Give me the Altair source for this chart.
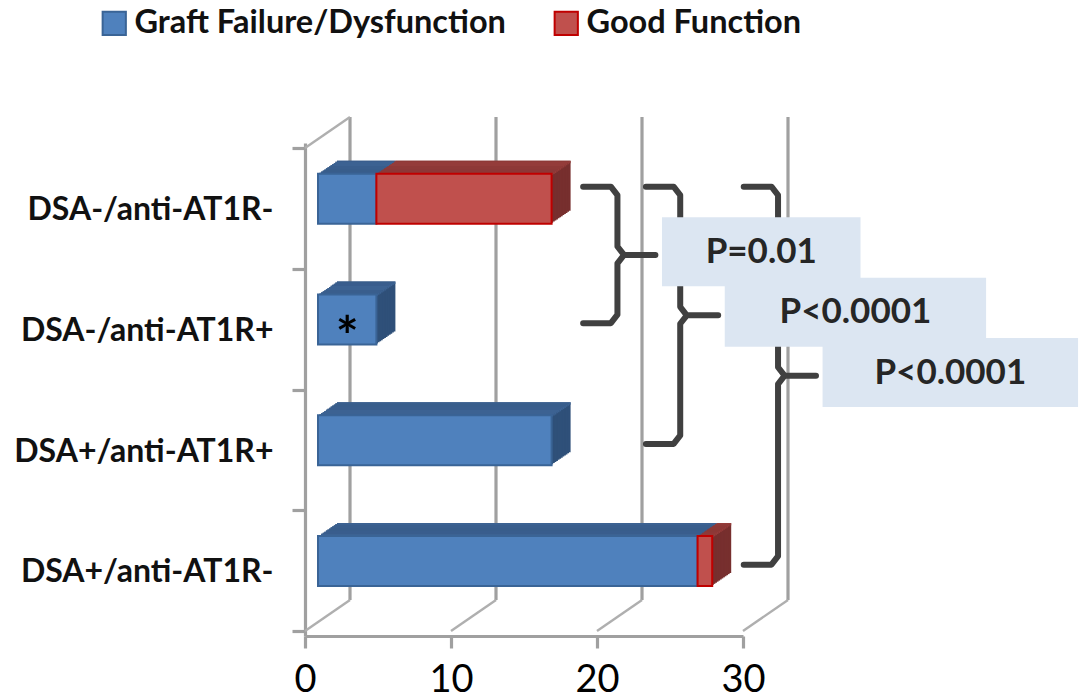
import altair as alt
import pandas as pd

# ---------------- data ----------------
categories = ["DSA-/anti-AT1R-", "DSA-/anti-AT1R+", "DSA+/anti-AT1R+", "DSA+/anti-AT1R-"]
series_names = ["Graft Failure/Dysfunction", "Good Function"]
failure = [4, 4, 16, 26]
good = [12, 0, 0, 1]
markers = ["", "*", "", ""]
x_ticks = [0, 10, 20, 30]

p_labels = ["P=0.01", "P<0.0001", "P<0.0001"]
p_from = [0, 0, 0]   # first category index of the bracket
p_to = [1, 2, 3]     # last category index of the bracket

# ------------- layout / style -------------
W, H = 438, 493
FONT = "Lato"
BLUE, BLUE_TOP, BLUE_SIDE, BLUE_EDGE = "#4F81BD", "#3C6292", "#2F5079", "#3A6496"
RED, RED_TOP, RED_SIDE, RED_EDGE = "#C0504D", "#943C3A", "#772F2E", "#C00000"
WALL = "#A0A0A0"
BRACE = "#404040"
BOX = "#DCE6F2"

BAR_SIZE = 50
FRONT_DX, FRONT_DY = 13, -9.6
DEPTH_DX, DEPTH_DY = 19, -13
WALL_DX, WALL_DY = 45, -31
N_STEPS = 12

brace_x = [21.4, 25.7, 32.4]   # spine of each brace (x units)
box_w = [13.6, 17.9, 17.5]     # label box widths (x units)

# ------------- tables -------------
rows = []
for i, c in enumerate(categories):
    segs = [(series_names[0], 0, failure[i], BLUE_TOP, BLUE_SIDE),
            (series_names[1], failure[i], failure[i] + good[i], RED_TOP, RED_SIDE)]
    for s, a, b, t, sd in segs:
        if b > a:
            rows.append(dict(cat=c, idx=i, series=s, start=a, end=b, top=t, side=sd))
bars = pd.DataFrame(rows)

stars = pd.DataFrame([dict(idx=i, x=failure[i] / 2, m=m) for i, m in enumerate(markers) if m])
ticks_df = pd.DataFrame({"v": x_ticks})
origin_df = pd.DataFrame({"v": [x_ticks[0]]})

brows, boxrows = [], []
for j, lab in enumerate(p_labels):
    top = p_from[j] - 0.1
    bot = p_to[j] + 0.03
    mid = (p_from[j] + p_to[j]) / 2 - 0.035
    sx = brace_x[j]
    arm, tip = sx - 2.35, sx + 2.6
    pts = [(arm, top), (sx - 0.45, top), (sx, top + 0.07), (sx, mid - 0.07), (sx + 0.45, mid),
           (tip, mid), (sx + 0.45, mid), (sx, mid + 0.07), (sx, bot - 0.07), (sx - 0.45, bot), (arm, bot)]
    for o, (px, py) in enumerate(pts):
        brows.append(dict(b=j, o=o, x=px, y=py))
    x0 = tip + 0.45
    x1 = x0 + box_w[j]
    boxrows.append(dict(label=lab, x0=x0, x1=x1, xc=(x0 + x1) / 2,
                        yc=(p_from[j] + p_to[j]) / 2 - 0.14))
braces = pd.DataFrame(brows)
boxes = pd.DataFrame(boxrows)

# ------------- scales / axes -------------
xscale = alt.Scale(domain=[0, 30], nice=False, zero=False)
yscale = alt.Scale(domain=[-0.5, len(categories) - 0.5], reverse=True, nice=False, zero=False)
label_expr = "[" + ",".join(f"'{c}'" for c in categories) + "][round(datum.value + 0.5)] || ''"
xaxis = alt.Axis(values=x_ticks, grid=False, domainColor=WALL, domainWidth=3.2, tickColor=WALL,
                 tickWidth=3.2, tickSize=12, labelFont=FONT, labelFontSize=38, labelColor="#000000",
                 labelPadding=13, labelFlush=False, labelOverlap=False)
yaxis = alt.Axis(values=[k - 0.5 for k in range(len(categories) + 1)], labelExpr=label_expr,
                 labelOffset=H / len(categories) / 2, grid=False, domainColor=WALL, domainWidth=3.2,
                 tickColor=WALL, tickWidth=3.2, tickSize=13, labelFont=FONT, labelFontSize=32,
                 labelFontWeight="bold", labelColor="#111111", labelPadding=19, labelOverlap=False,
                 labelLimit=0)


def ex(f):
    return alt.X(f, type="quantitative", scale=xscale, axis=xaxis, title=None)


def ey(f):
    return alt.Y(f, type="quantitative", scale=yscale, axis=yaxis, title=None)


layers = []

# back wall and floor lines
layers.append(alt.Chart(ticks_df).mark_rule(color=WALL, strokeWidth=3.2, xOffset=WALL_DX,
                                            yOffset=WALL_DY, y2Offset=WALL_DY)
              .encode(x=ex("v"), y=alt.datum(-0.5), y2=alt.datum(len(categories) - 0.5)))
layers.append(alt.Chart(ticks_df).mark_rule(color="#AFAFAF", strokeWidth=2.4, x2Offset=WALL_DX,
                                            y2Offset=WALL_DY)
              .encode(x=ex("v"), x2="v", y=alt.datum(len(categories) - 0.5),
                      y2=alt.datum(len(categories) - 0.5)))
layers.append(alt.Chart(origin_df).mark_rule(color="#AFAFAF", strokeWidth=2.4, x2Offset=WALL_DX,
                                             y2Offset=WALL_DY)
              .encode(x=ex("v"), x2="v", y=alt.datum(-0.5), y2=alt.datum(-0.5)))

# 3-D extrusion of the bars
for k in range(N_STEPS, 0, -1):
    dx = FRONT_DX + DEPTH_DX * k / N_STEPS
    dy = FRONT_DY + DEPTH_DY * k / N_STEPS
    layers.append(alt.Chart(bars).mark_bar(orient="horizontal", size=BAR_SIZE, xOffset=dx,
                                           x2Offset=dx, yOffset=dy)
                  .encode(x=ex("start"), x2="end", y=ey("idx"),
                          color=alt.Color("side:N", scale=None)))
    layers.append(alt.Chart(bars).mark_bar(orient="horizontal", size=2.4, xOffset=dx,
                                           x2Offset=dx, yOffset=dy - BAR_SIZE / 2 + 1.2)
                  .encode(x=ex("start"), x2="end", y=ey("idx"),
                          color=alt.Color("top:N", scale=None)))

legend = alt.Legend(orient="none", legendX=-207, legendY=-136, direction="horizontal", title=None,
                    symbolType="square", symbolSize=540, symbolStrokeWidth=2, labelFont=FONT,
                    labelFontSize=32.5, labelFontWeight="bold", labelColor="#111111", labelOffset=4,
                    columnPadding=44, labelLimit=0, padding=0)

layers.append(alt.Chart(bars).mark_bar(orient="horizontal", size=BAR_SIZE, xOffset=FRONT_DX,
                                       x2Offset=FRONT_DX, yOffset=FRONT_DY, strokeWidth=2)
              .encode(x=ex("start"), x2="end", y=ey("idx"),
                      fill=alt.Fill("series:N", scale=alt.Scale(domain=series_names, range=[BLUE, RED]),
                                    legend=legend, title=None),
                      stroke=alt.Stroke("series:N",
                                        scale=alt.Scale(domain=series_names, range=[BLUE_EDGE, RED_EDGE]),
                                        legend=legend, title=None)))

layers.append(alt.Chart(stars).mark_text(font=FONT, fontSize=54, fontWeight="bold", color="#000000",
                                         dx=FRONT_DX, dy=FRONT_DY + 19, baseline="middle")
              .encode(x=ex("x"), y=ey("idx"), text="m:N"))

layers.append(alt.Chart(braces).mark_line(color=BRACE, strokeWidth=6, strokeCap="round",
                                          strokeJoin="round", yOffset=FRONT_DY)
              .encode(x=ex("x"), y=ey("y"), detail="b:N", order="o:Q"))

layers.append(alt.Chart(boxes).mark_bar(orient="horizontal", size=69, color=BOX)
              .encode(x=ex("x0"), x2="x1", y=ey("yc")))
layers.append(alt.Chart(boxes).mark_text(font=FONT, fontSize=35, fontWeight="bold", color="#262626",
                                         baseline="middle")
              .encode(x=ex("xc"), y=ey("yc"), text="label:N"))

chart = alt.layer(*layers).properties(
    width=W, height=H,
    autosize=alt.AutoSizeParams(type="none"),
    padding={"left": 305, "top": 143, "right": 1079 - 305 - W, "bottom": 699 - 143 - H},
    background="white",
).configure_view(stroke=None)

chart.save("out.html", embed_options={"renderer": "svg", "actions": False})
